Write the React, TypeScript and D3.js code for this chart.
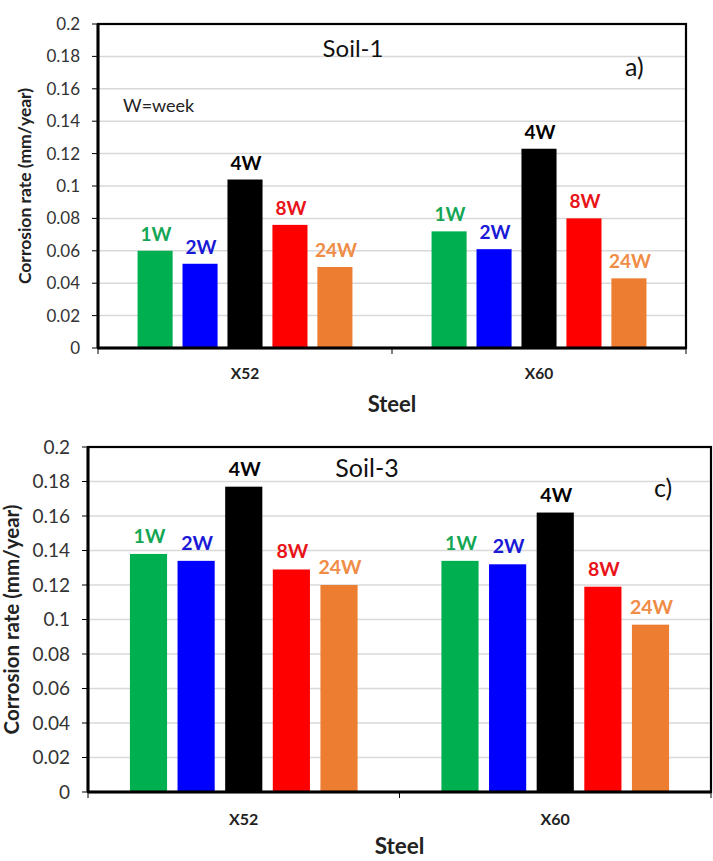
import React from 'react';
import * as d3 from 'd3';

// corrosion rate (mm/year) per steel grade, one entry per exposure time
const steels = ['X52', 'X60'];
const weeks = ['1W', '2W', '4W', '8W', '24W'];
const weekColors = ['#00b050', '#0000ff', '#000000', '#ff0000', '#ed7d31'];
const labelColors = ['#14a654', '#1a1ad6', '#000000', '#e8141a', '#ef8c46'];

const soil1Rates = [
    [0.060, 0.052, 0.104, 0.076, 0.050],
    [0.072, 0.061, 0.123, 0.080, 0.043],
];
const soil3Rates = [
    [0.138, 0.134, 0.177, 0.129, 0.120],
    [0.134, 0.132, 0.162, 0.119, 0.097],
];

const yTicks = [0, 0.02, 0.04, 0.06, 0.08, 0.1, 0.12, 0.14, 0.16, 0.18, 0.2];
const yMax = 0.2;

const FONT = 'Lato, "Open Sans", sans-serif';

type PanelProps = {
    rates: number[][];
    box: { left: number; top: number; right: number; bottom: number };
    title: string;
    titlePos: [number, number];
    tag: string;
    tagPos: [number, number];
    note?: string;
    notePos?: [number, number];
    sizes: { tick: number; yTitle: number; bar: number; title: number; xTick: number; xTitle: number; tag: number };
    yTitleX: number;
    xTickDy: number;
    xTitleY: number;
    labelGap: number;
};

const Panel = (p: PanelProps) => {
    const { left, top, right, bottom } = p.box;
    const w = right - left;
    const h = bottom - top;

    const y = d3.scaleLinear().domain([0, yMax]).range([h, 0]);
    const x0 = d3.scaleBand().domain(steels).range([0, w]).padding(0);
    const x1 = d3.scaleBand().domain(weeks).range([0, x0.bandwidth()]).paddingInner(0.22).paddingOuter(0.88);

    const fmt = (v: number) => String(+v.toFixed(2));

    return (
        <g transform={`translate(${left},${top})`}>
            {/* gridlines */}
            {yTicks.filter(t => t > 0).map(t => (
                <line key={'g' + t} x1={0} x2={w} y1={y(t)} y2={y(t)} stroke="#d9d9d9" strokeWidth={1.5} />
            ))}

            {/* bars */}
            {steels.map((s, i) => (
                <g key={s} transform={`translate(${x0(s)},0)`}>
                    {weeks.map((wk, j) => {
                        const v = p.rates[i][j];
                        const bx = x1(wk)!;
                        return (
                            <g key={wk}>
                                <rect x={bx} y={y(v)} width={x1.bandwidth()} height={h - y(v)} fill={weekColors[j]} />
                                <text
                                    x={bx + x1.bandwidth() / 2 + 1}
                                    y={y(v) - p.labelGap}
                                    textAnchor="middle"
                                    fontFamily={FONT}
                                    fontWeight="bold"
                                    fontSize={p.sizes.bar}
                                    fill={labelColors[j]}
                                >
                                    {wk}
                                </text>
                            </g>
                        );
                    })}
                </g>
            ))}

            {/* frame */}
            <rect x={0} y={0} width={w} height={h} fill="none" stroke="#000" strokeWidth={2.2} />
            <line x1={0} x2={0} y1={0} y2={h} stroke="#000" strokeWidth={3} />
            <line x1={0} x2={w} y1={h} y2={h} stroke="#000" strokeWidth={3} />

            {/* y axis */}
            {yTicks.map(t => (
                <g key={'t' + t} transform={`translate(0,${y(t)})`}>
                    <line x1={-6} x2={0} stroke="#000" strokeWidth={1} />
                    <text
                        x={-18}
                        dy="0.35em"
                        textAnchor="end"
                        fontFamily={FONT}
                        fontSize={p.sizes.tick}
                        fill="#333"
                    >
                        {fmt(t)}
                    </text>
                </g>
            ))}
            <text
                transform={`translate(${p.yTitleX - left},${h / 2}) rotate(-90)`}
                textAnchor="middle"
                dy="0.35em"
                fontFamily={FONT}
                fontWeight="bold"
                fontSize={p.sizes.yTitle}
                fill="#222"
            >
                Corrosion rate (mm/year)
            </text>

            {/* x axis */}
            {[0, w / 2, w].map((tx, i) => (
                <line key={'xt' + i} x1={tx} x2={tx} y1={h} y2={h + 6} stroke="#000" strokeWidth={1} />
            ))}
            {steels.map(s => (
                <text
                    key={'xl' + s}
                    x={x0(s)! + x0.bandwidth() / 2}
                    y={h + p.xTickDy}
                    textAnchor="middle"
                    fontFamily={FONT}
                    fontWeight="bold"
                    fontSize={p.sizes.xTick}
                    fill="#222"
                >
                    {s}
                </text>
            ))}
            <text
                x={w / 2}
                y={p.xTitleY - top}
                textAnchor="middle"
                fontFamily={FONT}
                fontWeight="bold"
                fontSize={p.sizes.xTitle}
                fill="#222"
            >
                Steel
            </text>

            {/* annotations */}
            <text x={p.titlePos[0] - left} y={p.titlePos[1] - top} textAnchor="middle" fontFamily={FONT} fontSize={p.sizes.title} fill="#111">
                {p.title}
            </text>
            <text x={p.tagPos[0] - left} y={p.tagPos[1] - top} fontFamily={FONT} fontSize={p.sizes.tag} fill="#111">
                {p.tag}
            </text>
            {p.note && p.notePos && (
                <text x={p.notePos[0] - left} y={p.notePos[1] - top} fontFamily={FONT} fontSize={18} fill="#222">
                    {p.note}
                </text>
            )}
        </g>
    );
};

const App = () => {
    return (
        <svg width={713} height={861} style={{ position: 'absolute', left: 0, top: 0, background: '#fff' }}>
            <rect width={713} height={861} fill="#fff" />
            <Panel
                rates={soil1Rates}
                box={{ left: 98, top: 24, right: 686, bottom: 348 }}
                title="Soil-1"
                titlePos={[353, 57]}
                tag="a)"
                tagPos={[625, 76]}
                note="W=week"
                notePos={[123, 112]}
                sizes={{ tick: 17, yTitle: 17.5, bar: 19, title: 24, xTick: 15.5, xTitle: 22, tag: 25 }}
                yTitleX={25}
                xTickDy={31}
                xTitleY={412}
                labelGap={10}
            />
            <Panel
                rates={soil3Rates}
                box={{ left: 88, top: 447, right: 711, bottom: 792 }}
                title="Soil-3"
                titlePos={[367, 477]}
                tag="c)"
                tagPos={[654, 497]}
                sizes={{ tick: 19, yTitle: 20.5, bar: 19.5, title: 25, xTick: 16, xTitle: 22.5, tag: 25 }}
                yTitleX={12}
                xTickDy={33}
                xTitleY={854}
                labelGap={11}
            />
        </svg>
    );
};

export default App;
